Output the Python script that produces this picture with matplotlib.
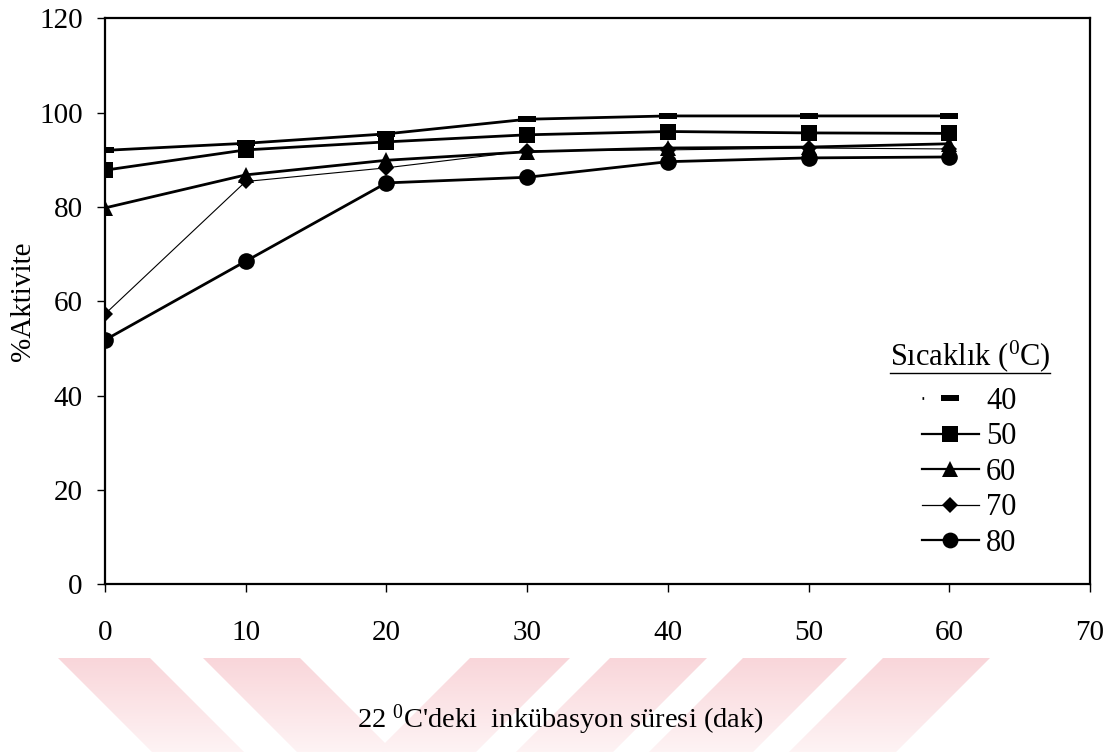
import matplotlib
matplotlib.use("Agg")
import matplotlib.pyplot as plt
import numpy as np
from matplotlib.lines import Line2D
from matplotlib.path import Path
from matplotlib.patches import PathPatch

plt.rcParams["font.family"] = ["Liberation Serif", "DejaVu Serif"]
plt.rcParams["mathtext.fontset"] = "custom"
plt.rcParams["mathtext.rm"] = "Liberation Serif"
plt.rcParams["mathtext.it"] = "Liberation Serif:italic"

# incubation time at 22 C (min)
minutes = [0, 10, 20, 30, 40, 50, 60]
# % activity per pre-incubation temperature
act_40 = [92.0, 93.5, 95.5, 98.6, 99.3, 99.3, 99.3]
act_50 = [87.8, 92.1, 93.8, 95.3, 96.0, 95.7, 95.6]
act_60 = [79.8, 86.8, 89.9, 91.7, 92.5, 92.7, 93.4]
act_70 = [57.3, 85.4, 88.3, 91.9, 92.1, 92.5, 92.3]
act_80 = [51.8, 68.5, 85.1, 86.3, 89.6, 90.4, 90.6]
temp_labels = ["40", "50", "60", "70", "80"]
x_ticks = [0, 10, 20, 30, 40, 50, 60, 70]
y_ticks = [0, 20, 40, 60, 80, 100, 120]

W, H = 1114, 752
fig = plt.figure(figsize=(W / 100, H / 100), dpi=100)

# faint pink watermark stripes at the bottom of the page
wm = fig.add_axes([0, 0, 1, 1])
wm.set_xlim(0, W)
wm.set_ylim(H, 0)
wm.axis("off")
top, bot = 658, H
dy = bot - top
stripes = [
    (58, 150, +1), (203, 300, +1),
    (470, 570, -1), (610, 707, -1), (743, 847, -1), (883, 990, -1),
]
verts, codes = [], []
for x0, x1, d in stripes:
    verts += [(x0, top), (x1, top), (x1 + d * dy, bot), (x0 + d * dy, bot), (x0, top)]
    codes += [Path.MOVETO, Path.LINETO, Path.LINETO, Path.LINETO, Path.CLOSEPOLY]
clip = PathPatch(Path(verts, codes), transform=wm.transData, facecolor="none", edgecolor="none")
wm.add_patch(clip)
c_top = np.array([249, 214, 218]) / 255
c_bot = np.array([254, 243, 244]) / 255
t = np.linspace(0, 1, 64)[:, None, None]
grad = c_top * (1 - t) + c_bot * t
img = wm.imshow(grad, extent=[0, W, bot, top], aspect="auto", interpolation="bilinear")
img.set_clip_path(clip)

ax = fig.add_axes([105 / W, 1 - 584.3 / H, 985 / W, 566 / H])
ax.patch.set_alpha(0)

bar = [(-1, -0.38), (1, -0.38), (1, 0.38), (-1, 0.38), (-1, -0.38)]
series = [
    (act_40, bar, 13, 2.0),
    (act_50, "s", 11.5, 2.0),
    (act_60, "^", 12, 2.0),
    (act_70, "D", 8.5, 0.8),
    (act_80, "o", 12, 2.0),
]
handles = []
for (vals, mk, ms, lw), lab in zip(series, temp_labels):
    ax.plot(minutes, vals, color="black", lw=lw, marker=mk, ms=ms,
            markeredgewidth=0, solid_joinstyle="round")
    if lab == "40":
        h = Line2D([], [], color="black", lw=2.0, dashes=(0.6, 60), marker=mk, ms=ms,
                   markeredgewidth=0)
    else:
        h = Line2D([], [], color="black", lw=1.6 if lw > 1 else 0.9, marker=mk,
                   ms=ms * 0.95, markeredgewidth=0)
    handles.append(h)

ax.set_xlim(0, 70)
ax.set_ylim(0, 120)
ax.set_xticks(x_ticks)
ax.set_yticks(y_ticks)
for s in ax.spines.values():
    s.set_linewidth(1.6)
ax.tick_params(direction="out", length=6, width=1.0, labelsize=21)
ax.tick_params(axis="y", pad=10)
ax.tick_params(axis="x", pad=20)

ax.set_ylabel("%Aktivite", fontsize=21)
ax.yaxis.set_label_coords(-0.070, 0.5)
fig.text(560 / W, 1 - 720 / H, "22 $^{0}$C'deki  inkübasyon süresi (dak)",
         fontsize=20.5, ha="center", va="center")

leg = ax.legend(handles, temp_labels, fontsize=22, frameon=False, loc="upper left",
                bbox_to_anchor=((922 - 105) / 985, (584.3 - 387) / 566),
                borderaxespad=0, borderpad=0, handlelength=1.85, handletextpad=0.25,
                labelspacing=0.21)

title = fig.text(970 / W, 1 - 356 / H, "Sıcaklık ($^{0}$C)", fontsize=22,
                 ha="center", va="center")
fig.canvas.draw()
bb = title.get_window_extent()
uy = bb.y0 + 1
fig.add_artist(Line2D([bb.x0 / W, bb.x1 / W], [uy / H, uy / H], color="black",
                      lw=1.0, transform=fig.transFigure))

fig.savefig("out.png", dpi=100)
